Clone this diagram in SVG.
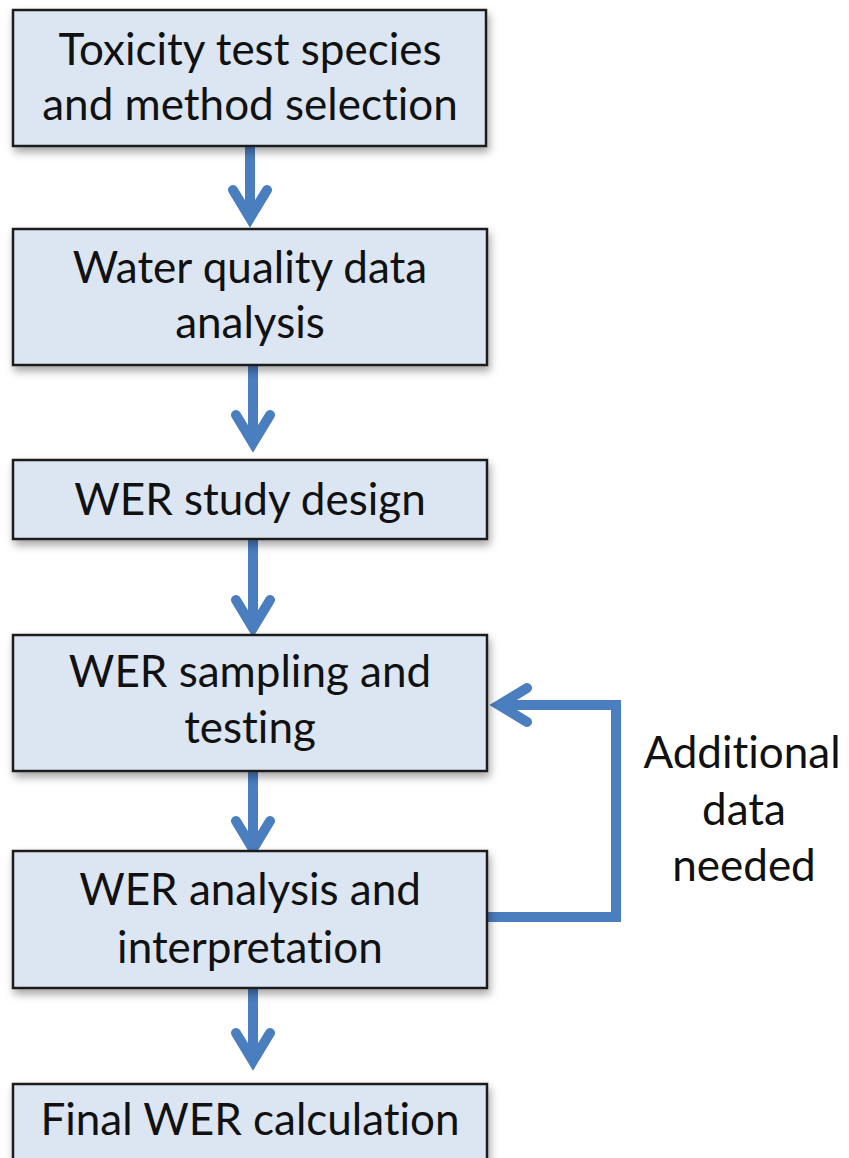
<svg xmlns="http://www.w3.org/2000/svg" width="849" height="1158" viewBox="0 0 849 1158">
<style>
.box{fill:#dce6f2;stroke:#1f1f1f;stroke-width:2.5;filter:url(#sh)}
.t{font-family:Lato,"Liberation Sans",sans-serif;font-size:44px;fill:#111;text-anchor:middle;font-variant-ligatures:none;font-feature-settings:"liga" 0,"dlig" 0}
.ln{fill:none;stroke:#4a7ebf;stroke-width:10;stroke-linejoin:miter;stroke-miterlimit:10}
.hd{fill:none;stroke:#4a7ebf;stroke-width:10;stroke-linecap:round;stroke-linejoin:miter;stroke-miterlimit:10}
</style>
<defs>
<filter id="sh" x="-10%" y="-20%" width="125%" height="150%">
<feDropShadow dx="2" dy="5" stdDeviation="4" flood-color="#000" flood-opacity="0.35"/>
</filter>
</defs>
<rect width="849" height="1158" fill="#ffffff"/>
<g id="connectors">
<path class="ln" d="M250 146 V218"/>
<polyline class="hd" points="233,190 250,218 267,190"/>
<path class="ln" d="M253 365 V443"/>
<polyline class="hd" points="236,415 253,443 270,415"/>
<path class="ln" d="M253 539 V628"/>
<polyline class="hd" points="236,600 253,628 270,600"/>
<path class="ln" d="M253 771 V849"/>
<polyline class="hd" points="236,821 253,849 270,821"/>
<path class="ln" d="M253 988 V1061"/>
<polyline class="hd" points="236,1033 253,1061 270,1033"/>
<path class="ln" d="M487 917 H616 V705 H500"/>
<polyline class="hd" points="527,688 499,705 527,722"/>
</g>
<g id="n1"><rect class="box" x="13" y="10" width="473" height="136"/>
<text class="t" x="250" y="65">Toxicity test species</text>
<text class="t" x="250" y="120">and method selection</text></g>
<g id="n2"><rect class="box" x="13" y="229" width="474" height="136"/>
<text class="t" x="250" y="283">Water quality data</text>
<text class="t" x="250" y="338">analysis</text></g>
<g id="n3"><rect class="box" x="13" y="460" width="474" height="79"/>
<text class="t" x="250" y="515">WER study design</text></g>
<g id="n4"><rect class="box" x="13" y="635" width="474" height="136"/>
<text class="t" x="250" y="687">WER sampling and</text>
<text class="t" x="250" y="743">testing</text></g>
<g id="n5"><rect class="box" x="13" y="851" width="474" height="137"/>
<text class="t" x="250" y="905">WER analysis and</text>
<text class="t" x="250" y="963">interpretation</text></g>
<g id="n6"><rect class="box" x="13" y="1084" width="474" height="90"/>
<text class="t" x="250" y="1135">Final WER calculation</text></g>
<g id="label">
<text class="t" x="742" y="768">Additional</text>
<text class="t" x="744" y="825">data</text>
<text class="t" x="744" y="881">needed</text>
</g>
</svg>
